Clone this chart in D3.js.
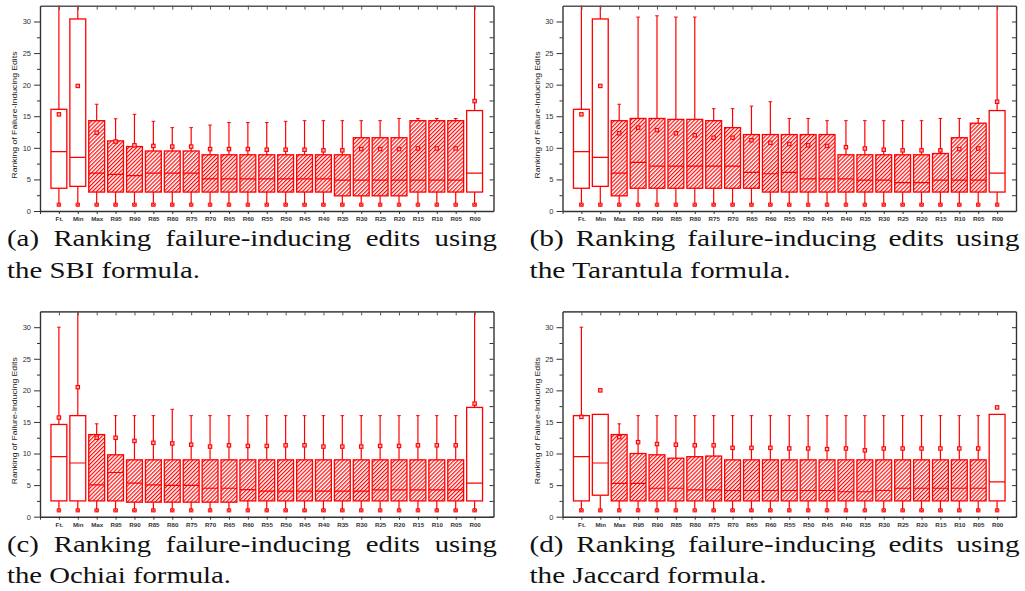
<!DOCTYPE html>
<html>
<head>
<meta charset="utf-8">
<script src="https://cdn.jsdelivr.net/npm/d3@7"></script>
<style>
body { margin: 0; background: #fff; }
.caption { font-family: 'Liberation Serif', 'Times New Roman', serif; }
</style>
</head>
<body>
<div id="chart"></div>
<script>
//categories on the x axis
const categories = ['Ft.', 'Min', 'Max', 'R95', 'R90', 'R85', 'R80', 'R75', 'R70', 'R65', 'R60', 'R55',
    'R50', 'R45', 'R40', 'R35', 'R30', 'R25', 'R20', 'R15', 'R10', 'R05', 'R00'];
//boxes drawn without hatching
const plainBoxes = ['Ft.', 'Min', 'R00'];
const yTicks = [0, 5, 10, 15, 20, 25, 30];
const yMinorTicks = [2.5, 7.5, 12.5, 17.5, 22.5, 27.5];

//lowest rank (bottom whisker), the same in every panel
const minRank = [1, 1, 1, 1, 1, 1, 1, 1, 1, 1, 1, 1, 1, 1, 1, 1, 1, 1, 1, 1, 1, 1, 1];

//(a) SBI
const sbiQ1 = [3.6, 3.9, 3.0, 3.0, 3.0, 3.0, 3.0, 3.0, 3.0, 3.0, 3.0, 3.0, 3.0, 3.0, 3.0, 2.4, 2.4, 2.4, 2.4, 3.0, 3.0, 3.0, 3.0];
const sbiMedian = [9.4, 8.5, 6.0, 5.8, 5.6, 6.0, 6.0, 6.0, 5.1, 5.1, 5.1, 5.1, 5.1, 5.1, 5.1, 4.9, 4.9, 4.9, 4.9, 4.9, 4.9, 4.9, 6.0];
const sbiQ3 = [16.1, 30.4, 14.3, 11.1, 10.2, 9.5, 9.5, 9.5, 8.9, 8.9, 8.9, 8.9, 8.9, 8.9, 8.9, 8.9, 11.6, 11.6, 11.6, 14.3, 14.3, 14.3, 15.9];
const sbiMax = [40, 40, 16.9, 14.6, 15.3, 14.2, 13.2, 13.2, 13.6, 14.0, 14.0, 14.0, 14.2, 14.3, 14.3, 14.3, 14.3, 14.3, 14.65, 14.65, 14.65, 14.65, 40];
const sbiMean = [15.3, 19.8, 12.4, 11.0, 10.4, 10.3, 10.2, 10.2, 9.8, 9.8, 9.8, 9.7, 9.7, 9.7, 9.6, 9.6, 9.8, 9.8, 9.8, 9.9, 9.9, 9.9, 17.4];

//(b) Tarantula
const tarQ1 = [3.6, 3.9, 2.4, 3.6, 3.6, 3.6, 3.6, 3.6, 3.6, 3.6, 3.0, 3.0, 3.0, 3.0, 3.0, 3.0, 3.0, 3.0, 3.0, 3.0, 3.0, 3.0, 3.0];
const tarMedian = [9.4, 8.5, 6.0, 7.7, 7.1, 7.1, 7.1, 7.1, 7.1, 6.1, 5.9, 6.1, 5.1, 5.1, 5.1, 4.9, 4.9, 4.5, 4.5, 4.9, 4.9, 4.9, 6.0];
const tarQ3 = [16.1, 30.4, 14.3, 14.65, 14.65, 14.5, 14.5, 14.3, 13.2, 12.1, 12.1, 12.1, 12.1, 12.1, 8.9, 8.9, 8.9, 8.9, 8.9, 9.1, 11.6, 13.9, 15.9];
const tarMax = [40, 40, 16.9, 30.7, 30.9, 30.7, 30.7, 16.2, 16.2, 16.6, 17.3, 14.65, 14.65, 14.3, 14.3, 14.3, 14.3, 14.3, 14.3, 14.65, 14.65, 14.65, 40];
const tarMean = [15.3, 19.8, 12.3, 13.2, 12.8, 12.3, 12.0, 11.6, 11.6, 11.2, 10.8, 10.6, 10.4, 10.3, 10.1, 9.9, 9.7, 9.6, 9.6, 9.6, 9.8, 9.9, 17.3];

//(c) Ochiai
const ochQ1 = [2.5, 2.5, 2.5, 2.5, 2.3, 2.3, 2.3, 2.3, 2.3, 2.3, 2.5, 2.5, 2.5, 2.5, 2.5, 2.5, 2.5, 2.5, 2.5, 2.5, 2.5, 2.5, 2.5];
const ochMedian = [9.5, 8.5, 5.05, 7.0, 5.3, 5.05, 4.95, 4.95, 4.5, 4.5, 4.3, 4.05, 4.05, 4.05, 4.05, 4.05, 4.05, 4.26, 4.26, 4.26, 4.26, 4.26, 5.3];
const ochQ3 = [14.6, 16.0, 13.0, 9.8, 9.0, 9.0, 9.0, 9.0, 9.0, 9.0, 9.0, 9.0, 9.0, 9.0, 9.0, 9.0, 9.0, 9.0, 9.0, 9.0, 9.0, 9.0, 17.3];
const ochMax = [30.0, 40, 14.7, 16, 16, 16, 17.0, 16, 16, 16, 16, 16, 16, 16, 16, 16, 16, 16, 16, 16, 16, 16, 40];
const ochMean = [15.7, 20.5, 12.5, 12.5, 12.0, 11.7, 11.6, 11.4, 11.1, 11.3, 11.2, 11.2, 11.3, 11.3, 11.1, 11.1, 11.1, 11.2, 11.2, 11.3, 11.3, 11.3, 17.9];

//(d) Jaccard
const jacQ1 = [2.5, 3.4, 2.5, 2.5, 2.5, 2.5, 2.5, 2.5, 2.5, 2.5, 2.5, 2.5, 2.5, 2.5, 2.5, 2.5, 2.5, 2.5, 2.5, 2.5, 2.5, 2.5, 2.5];
const jacMedian = [9.5, 8.5, 5.26, 5.26, 4.5, 4.5, 4.26, 4.26, 4.15, 4.15, 4.15, 4.15, 4.15, 4.15, 3.95, 3.95, 4.15, 4.5, 4.5, 4.5, 4.5, 4.5, 5.5];
const jacQ3 = [16.0, 16.2, 13.0, 10.0, 9.8, 9.26, 9.5, 9.6, 9.0, 9.0, 9.0, 9.0, 9.0, 9.0, 9.0, 9.0, 9.0, 9.0, 9.0, 9.0, 9.0, 9.0, 16.2];
const jacMax = [30.0, 16.2, 14.7, 16, 16, 16, 16, 16, 16, 16, 16, 16, 16, 16, 16, 16, 16, 16, 16, 16, 16, 16, 16.2];
const jacMean = [15.8, 20.0, 12.6, 11.8, 11.5, 11.4, 11.3, 11.3, 10.9, 10.9, 10.9, 10.8, 10.8, 10.7, 10.8, 10.5, 10.8, 10.8, 10.8, 10.8, 10.8, 10.8, 17.3];

//Measures
const chartWidth = 1025;
const chartHeight = 591;
const plotWidth = 453.5;
const plotHeight = 205.3;
const yMax = 32.5;

//Colors
const boxColor = '#ff0000';
const axisColor = '#333333';
const frameColor = '#555555';

const svg = d3.select('#chart').append('svg')
    .attr('width', chartWidth)
    .attr('height', chartHeight);

const defs = svg.append('defs');
const hatch = defs.append('pattern')
    .attr('id', 'hatch')
    .attr('patternUnits', 'userSpaceOnUse')
    .attr('width', 2.8)
    .attr('height', 2.8)
    .attr('patternTransform', 'rotate(45)');
hatch.append('rect').attr('width', 2.8).attr('height', 2.8).attr('fill', '#fff');
hatch.append('line')
    .attr('x1', 0.6).attr('y1', 0).attr('x2', 0.6).attr('y2', 2.8)
    .attr('stroke', boxColor).attr('stroke-width', 1.15);

drawPanel(0, 40, 211, [sbiQ1, sbiMedian, sbiQ3, sbiMax, sbiMean],
    '(a)', 'the SBI formula.', 193);
drawPanel(1, 562.5, 211, [tarQ1, tarMedian, tarQ3, tarMax, tarMean],
    '(b)', 'the Tarantula formula.', 261);
drawPanel(2, 40, 516.7, [ochQ1, ochMedian, ochQ3, ochMax, ochMean],
    '(c)', 'the Ochiai formula.', 224);
drawPanel(3, 562.5, 516.7, [jacQ1, jacMedian, jacQ3, jacMax, jacMean],
    '(d)', 'the Jaccard formula.', 237);

function drawPanel(idx, left, zeroY, stats, tag, secondLine, secondWidth) {
    const [q1, median, q3, maxV, mean] = stats;
    const g = svg.append('g').attr('transform', `translate(${left},${zeroY - plotHeight})`);

    const x = d3.scaleLinear().domain([0, categories.length + 1]).range([0, plotWidth]);
    const y = d3.scaleLinear().domain([0, yMax]).range([plotHeight, 0]);
    const boxWidth = x(0.84) - x(0);

    defs.append('clipPath').attr('id', 'clip' + idx)
        .append('rect').attr('x', -2).attr('y', 0).attr('width', plotWidth + 4).attr('height', plotHeight + 4);

    const marks = g.append('g').attr('clip-path', `url(#clip${idx})`);

    categories.forEach((cat, i) => {
        const cx = x(i + 1);
        const plain = plainBoxes.includes(cat);
        const box = marks.append('g');
        //upper whisker
        box.append('line')
            .attr('x1', cx).attr('x2', cx)
            .attr('y1', y(q3[i])).attr('y2', y(Math.min(maxV[i], yMax + 1)))
            .attr('stroke', boxColor).attr('stroke-width', 1.2);
        if (maxV[i] < yMax && maxV[i] > q3[i]) {
            box.append('line')
                .attr('x1', cx - 1.8).attr('x2', cx + 1.8)
                .attr('y1', y(maxV[i])).attr('y2', y(maxV[i]))
                .attr('stroke', boxColor).attr('stroke-width', 1);
        }
        //lower whisker
        box.append('line')
            .attr('x1', cx).attr('x2', cx)
            .attr('y1', y(q1[i])).attr('y2', y(minRank[i]))
            .attr('stroke', boxColor).attr('stroke-width', 1.2);
        box.append('rect')
            .attr('x', cx - boxWidth / 2)
            .attr('y', y(q3[i]))
            .attr('width', boxWidth)
            .attr('height', y(q1[i]) - y(q3[i]))
            .attr('fill', plain ? '#fff' : 'url(#hatch)')
            .attr('stroke', boxColor)
            .attr('stroke-width', 1.3);
        box.append('line')
            .attr('x1', cx - boxWidth / 2).attr('x2', cx + boxWidth / 2)
            .attr('y1', y(median[i])).attr('y2', y(median[i]))
            .attr('stroke', boxColor).attr('stroke-width', 1.2);
        //mean
        box.append('rect')
            .attr('x', cx - 1.7).attr('y', y(mean[i]) - 1.7)
            .attr('width', 3.4).attr('height', 3.4)
            .attr('fill', '#ffb0b0').attr('stroke', boxColor).attr('stroke-width', 1.1);
        //lowest rank marker
        const my = y(minRank[i]);
        box.append('rect')
            .attr('x', cx - 1.8).attr('y', my - 1.6)
            .attr('width', 3.6).attr('height', 3.2)
            .attr('fill', boxColor).attr('stroke', boxColor).attr('stroke-width', 0.8);
        box.append('path')
            .attr('d', `M${cx - 1.8},${my - 1.6}L${cx + 1.8},${my + 1.6}M${cx - 1.8},${my + 1.6}L${cx + 1.8},${my - 1.6}`)
            .attr('stroke', '#ffc0c0').attr('stroke-width', 0.5);
    });

    //frame: top and right
    g.append('g')
        .call(d3.axisBottom(x).tickValues(d3.range(1, categories.length + 1)).tickSize(4).tickSizeOuter(0).tickFormat(''))
        .call(a => a.select('.domain').attr('stroke', frameColor).attr('stroke-width', 1.6))
        .call(a => a.selectAll('line').attr('stroke', frameColor));
    g.append('g').attr('transform', `translate(${plotWidth},0)`)
        .call(d3.axisRight(y).tickValues(yTicks.concat(yMinorTicks)).tickSize(-4).tickSizeOuter(0).tickFormat(''))
        .call(a => a.select('.domain').attr('stroke', axisColor).attr('stroke-width', 1.4))
        .call(a => a.selectAll('line').attr('stroke', axisColor));

    //bottom axis
    g.append('g').attr('transform', `translate(0,${plotHeight})`)
        .call(d3.axisBottom(x).tickValues(d3.range(0, categories.length + 1)).tickSize(3).tickSizeOuter(0)
            .tickFormat(d => d === 0 ? '' : categories[d - 1]))
        .call(a => a.select('.domain').attr('stroke', axisColor).attr('stroke-width', 1.4))
        .call(a => a.selectAll('line').attr('stroke', axisColor))
        .call(a => a.selectAll('text')
            .attr('font-family', 'Liberation Sans, Arial, sans-serif')
            .attr('font-size', 6.2).attr('font-weight', 'bold').attr('fill', '#333'));

    //left axis
    g.append('g')
        .call(d3.axisLeft(y).tickValues(yMinorTicks).tickSize(3).tickFormat(''))
        .call(a => a.select('.domain').remove())
        .call(a => a.selectAll('line').attr('stroke', axisColor));
    g.append('g')
        .call(d3.axisLeft(y).tickValues(yTicks).tickSize(6).tickPadding(3).tickSizeOuter(0))
        .call(a => a.select('.domain').attr('stroke', axisColor).attr('stroke-width', 1.4))
        .call(a => a.selectAll('line').attr('stroke', axisColor))
        .call(a => a.selectAll('text')
            .attr('font-family', 'Liberation Sans, Arial, sans-serif')
            .attr('font-size', 7.5).attr('fill', '#333'));

    g.append('text')
        .attr('transform', `translate(-23,${plotHeight - 96}) rotate(-90)`)
        .attr('text-anchor', 'middle')
        .attr('font-family', 'Liberation Sans, Arial, sans-serif')
        .attr('font-size', 7.8)
        .attr('fill', '#222')
        .attr('textLength', 127)
        .attr('lengthAdjust', 'spacingAndGlyphs')
        .text('Ranking of Failure-Inducing Edits');

    drawCaption(left - 33, left + 457, zeroY + 34.8, zeroY + 66.5,
        [tag, 'Ranking', 'failure-inducing', 'edits', 'using'], secondLine, secondWidth);
}

//justified two-line caption under each panel
function drawCaption(x0, x1, base1, base2, words, secondLine, secondWidth) {
    const cap = svg.append('g')
        .attr('class', 'caption')
        .attr('font-size', 24)
        .attr('fill', '#111');
    const line2 = cap.append('text')
        .attr('x', x0).attr('y', base2)
        .text(secondLine);
    const ratio = secondWidth / line2.node().getComputedTextLength();
    line2.attr('textLength', secondWidth).attr('lengthAdjust', 'spacingAndGlyphs');

    const nodes = words.map(w => cap.append('text').attr('y', base1).text(w));
    const widths = nodes.map(n => n.node().getComputedTextLength() * ratio);
    const gap = (x1 - x0 - d3.sum(widths)) / (words.length - 1);
    let pos = x0;
    nodes.forEach((n, i) => {
        n.attr('x', pos).attr('textLength', widths[i]).attr('lengthAdjust', 'spacingAndGlyphs');
        pos += widths[i] + gap;
    });
}
</script>
</body>
</html>
